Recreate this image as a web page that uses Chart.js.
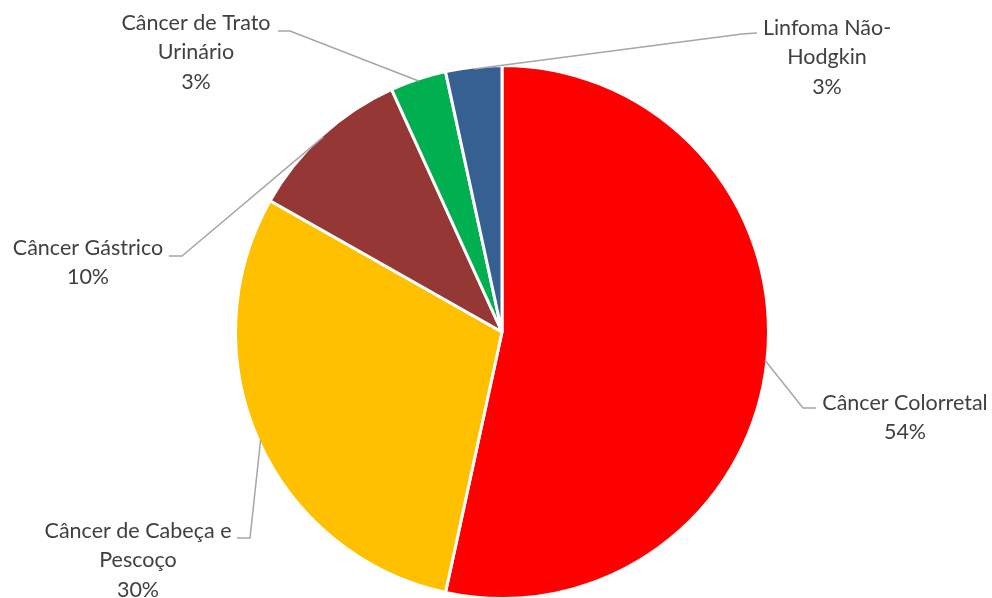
<!DOCTYPE html>
<html>
<head>
<meta charset="utf-8">
<script src="https://cdn.jsdelivr.net/npm/chart.js@4/dist/chart.umd.min.js"></script>
<style>
  html, body { margin: 0; padding: 0; background: #fff; }
  #wrap { width: 992px; height: 598px; }
</style>
</head>
<body>
<div id="wrap"><canvas id="pieChart" width="992" height="598"></canvas></div>
<script>
// data
const categories = [
  "Câncer Colorretal",
  "Câncer de Cabeça e Pescoço",
  "Câncer Gástrico",
  "Câncer de Trato Urinário",
  "Linfoma Não-Hodgkin"
];
const shares = [53.4, 29.8, 10.0, 3.4, 3.4];
const shareLabels = ["54%", "30%", "10%", "3%", "3%"];
const sliceColors = ["#FF0000", "#FFC000", "#953735", "#00B050", "#376092"];

// how each label is broken and where it sits (text centre x, first line y, elbow of leader line)
const labelLines = [
  ["Câncer Colorretal"],
  ["Câncer de Cabeça e", "Pescoço"],
  ["Câncer Gástrico"],
  ["Câncer de Trato", "Urinário"],
  ["Linfoma Não-", "Hodgkin"]
];
const labelLayout = [
  { cx: 905, y: 403, elbow: [[816, 408], [803, 408]] },
  { cx: 138, y: 531, elbow: [[237, 538], [250, 538]] },
  { cx: 88,  y: 248, elbow: [[169, 256], [182, 256]] },
  { cx: 196, y: 23,  elbow: [[278, 31], [290, 31]] },
  { cx: 827, y: 28,  elbow: [[757, 33], [742, 34]] }
];

// rotulos com linhas de chamada
const calloutLabels = {
  id: "calloutLabels",
  afterDraw(chart) {
    const ctx = chart.ctx;
    const meta = chart.getDatasetMeta(0);
    ctx.save();
    meta.data.forEach((arc, i) => {
      const p = arc.getProps(["x", "y", "startAngle", "endAngle", "outerRadius"], true);
      const mid = (p.startAngle + p.endAngle) / 2;
      const ex = p.x + Math.cos(mid) * (p.outerRadius - 2);
      const ey = p.y + Math.sin(mid) * (p.outerRadius - 2);
      const lay = labelLayout[i];

      ctx.strokeStyle = "#A6A6A6";
      ctx.lineWidth = 1.5;
      ctx.beginPath();
      ctx.moveTo(lay.elbow[0][0], lay.elbow[0][1]);
      ctx.lineTo(lay.elbow[1][0], lay.elbow[1][1]);
      ctx.lineTo(ex, ey);
      ctx.stroke();

      const lines = labelLines[i].concat([shareLabels[i]]);
      ctx.fillStyle = "#404040";
      ctx.font = "21.5px Lato, 'Open Sans', sans-serif";
      ctx.textAlign = "center";
      ctx.textBaseline = "middle";
      lines.forEach((t, k) => {
        ctx.fillText(t, lay.cx, lay.y + k * 29.5);
      });
    });
    ctx.restore();
  }
};

new Chart(document.getElementById("pieChart").getContext("2d"), {
  type: "pie",
  data: {
    labels: categories,
    datasets: [{
      data: shares,
      backgroundColor: sliceColors,
      borderColor: "#FFFFFF",
      borderWidth: 3,
      radius: 266.5
    }]
  },
  options: {
    responsive: false,
    animation: false,
    layout: { padding: { left: 237, right: 225, top: 66, bottom: 0 } },
    plugins: {
      legend: { display: false },
      tooltip: { enabled: false }
    }
  },
  plugins: [calloutLabels]
});
</script>
</body>
</html>
